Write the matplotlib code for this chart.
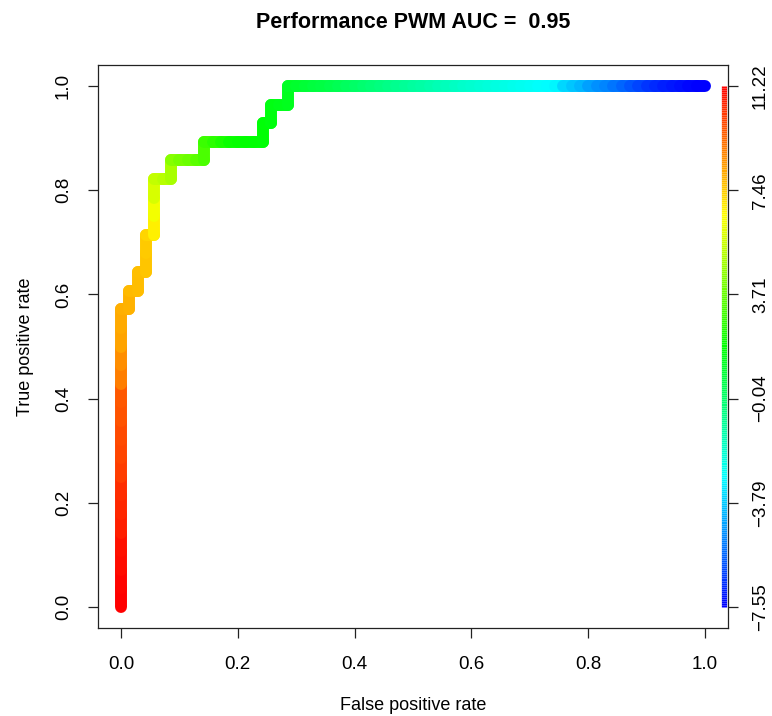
import numpy as np
import matplotlib
matplotlib.use("Agg")
import matplotlib.pyplot as plt
from matplotlib.collections import LineCollection
from matplotlib.colors import hsv_to_rgb

plt.rcParams["font.family"] = ["Liberation Sans", "DejaVu Sans"]

# PWM scores of the 28 positive and 70 negative sequences
pos_scores = [11.22, 11.15, 11.0, 10.9, 10.65, 10.5, 10.4, 10.1, 9.95, 9.85, 9.7, 9.6,
              8.9, 8.6, 8.2, 8.1, 7.95, 7.75, 7.6, 7.5, 6.8, 6.3, 5.8, 4.9, 3.2, 1.75,
              1.6, 1.3]
neg_scores = [8.0, 7.8, 7.7, 7.3, 5.4, 5.2, 4.3, 4.0, 3.8, 3.5,
              2.9, 2.6, 2.3, 2.0, 1.9, 1.85, 1.8, 1.7, 1.5, 1.4,
              1.15, 1.0, 0.85, 0.7, 0.6, 0.45, 0.3, 0.1, -0.05, -0.2,
              -0.35, -0.5, -0.65, -0.8, -0.95, -1.1, -1.2, -1.35, -1.5, -1.6,
              -1.75, -1.9, -2.0, -2.1, -2.2, -2.3, -2.4, -2.5, -2.6, -2.7,
              -2.8, -2.9, -3.0, -3.6, -3.9, -4.2, -4.6, -4.9, -5.1, -5.4,
              -5.7, -6.0, -6.3, -6.6, -6.8, -7.0, -7.15, -7.3, -7.45, -7.55]

title = "Performance PWM AUC =  0.95"
x_label = "False positive rate"
y_label = "True positive rate"
rate_ticks = [0.0, 0.2, 0.4, 0.6, 0.8, 1.0]
rate_tick_labels = ["0.0", "0.2", "0.4", "0.6", "0.8", "1.0"]
cutoff_tick_labels = ["\u22127.55", "\u22123.79", "\u22120.04", "3.71", "7.46", "11.22"]


def cutoff_colours(c, cmin, cmax):
    # red for the highest cutoff, blue for the lowest (hue 0 -> 2/3)
    hue = (2.0 / 3.0) * (cmax - np.asarray(c)) / (cmax - cmin)
    hsv = np.stack([hue, np.ones_like(hue), np.ones_like(hue)], axis=-1)
    return hsv_to_rgb(hsv)


scores = np.array(pos_scores + neg_scores)
labels = np.array([1] * len(pos_scores) + [0] * len(neg_scores))
order = np.argsort(-scores)
cuts = scores[order]
tpr = np.concatenate([[0], np.cumsum(labels[order]) / len(pos_scores)])
fpr = np.concatenate([[0], np.cumsum(1 - labels[order]) / len(neg_scores)])
cmin, cmax = cuts.min(), cuts.max()

W, H = 772, 716
fig = plt.figure(figsize=(W / 100, H / 100), dpi=100)
left, right, bottom, top = 97.6, 728.4, 627.8, 65.2
ax = fig.add_axes([left / W, (H - bottom) / H, (right - left) / W, (bottom - top) / H])
ax.set_xlim(-0.04, 1.04)
ax.set_ylim(-0.04, 1.04)

segs = np.stack([np.column_stack([fpr[:-1], tpr[:-1]]),
                 np.column_stack([fpr[1:], tpr[1:]])], axis=1)
lc = LineCollection(segs, colors=cutoff_colours(cuts, cmin, cmax), linewidths=8.6,
                    capstyle="round", joinstyle="round")
ax.add_collection(lc)

# colour key along the right edge
levels = np.linspace(cmin, cmax, 257)
ys = np.linspace(0, 1, 257)
bar = np.stack([np.column_stack([np.full(256, 1.032), ys[:-1]]),
                np.column_stack([np.full(256, 1.032), ys[1:]])], axis=1)
ax.add_collection(LineCollection(bar, colors=cutoff_colours(levels[:-1], cmin, cmax),
                                 linewidths=3.8, capstyle="butt"))

for s in ax.spines.values():
    s.set_linewidth(0.9)
    s.set_color("#222222")

ax.set_xticks(rate_ticks)
ax.set_xticklabels(rate_tick_labels)
ax.set_yticks(rate_ticks)
ax.set_yticklabels(rate_tick_labels, rotation=90, va="center")
ax.tick_params(axis="both", length=7.5, width=0.9, labelsize=13.5, color="#222222")
ax.tick_params(axis="x", pad=13)
ax.tick_params(axis="y", pad=11)

ax2 = ax.twinx()
ax2.set_ylim(ax.get_ylim())
ax2.set_yticks(rate_ticks)
ax2.set_yticklabels(cutoff_tick_labels, rotation=90, va="center")
ax2.tick_params(axis="y", length=7.5, width=0.9, labelsize=13.5, pad=9.5, color="#222222")
for s in ax2.spines.values():
    s.set_visible(False)

fig.text((left + right) / 2 / W, 1 - 22 / H, title, ha="center", va="center",
         fontsize=15.5, fontweight="bold")
fig.text((left + right) / 2 / W, 1 - 705 / H, x_label, ha="center", va="center", fontsize=13)
fig.text(26 / W, 1 - (top + bottom) / 2 / H, y_label, ha="center", va="center",
         rotation=90, fontsize=13)

fig.savefig("out.png", dpi=100)
